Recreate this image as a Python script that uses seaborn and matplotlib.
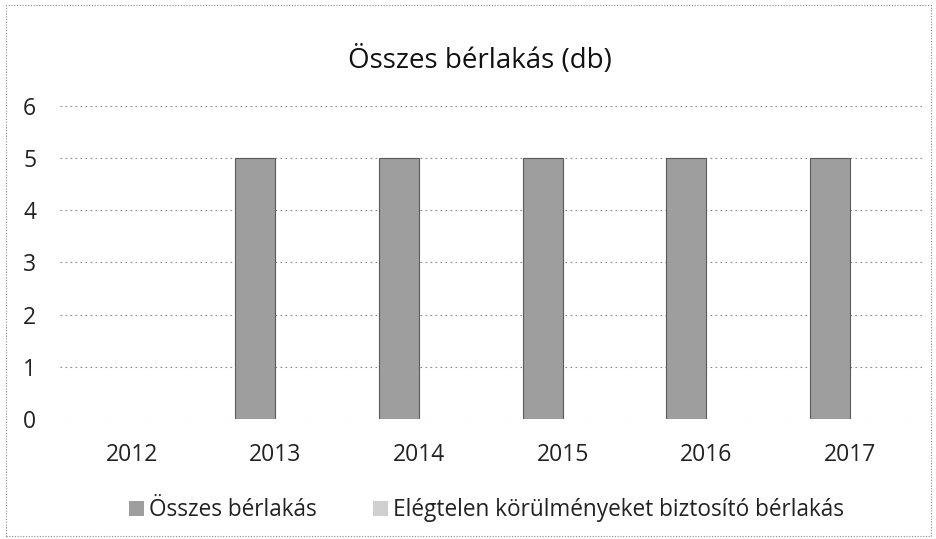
import pandas as pd
import matplotlib.pyplot as plt
import seaborn as sns
from matplotlib.patches import Rectangle

# --- data ---
years = ["2012", "2013", "2014", "2015", "2016", "2017"]
osszes = [0, 5, 5, 5, 5, 5]
elegtelen = [0, 0, 0, 0, 0, 0]
series_names = ["Összes bérlakás", "Elégtelen körülményeket biztosító bérlakás"]

df = pd.DataFrame({
    "ev": years * 2,
    "db": osszes + elegtelen,
    "sorozat": [series_names[0]] * len(years) + [series_names[1]] * len(years),
})

# --- style ---
sns.set_style("white")
plt.rcParams['font.family'] = ['Open Sans', 'DejaVu Sans']

fig = plt.figure(figsize=(9.37, 5.39), dpi=100, facecolor="white")
ax = fig.add_axes([0.064, 0.222, 0.920, 0.582])

sns.barplot(
    data=df, x="ev", y="db", hue="sorozat",
    palette=["#9e9e9e", "#d0d0d0"],
    width=0.56, edgecolor="#5a5a5a", linewidth=0.8,
    ax=ax, legend=True,
)

# zero-height bars leave no outline
for bar in ax.patches:
    if bar.get_height() == 0:
        bar.set_linewidth(0)

ax.set_ylim(0, 6)
ax.set_xlim(-0.5, 5.5)
ax.set_yticks(range(0, 7))
ax.set_xlabel("")
ax.set_ylabel("")
ax.yaxis.grid(True, linestyle=(0, (1.5, 3)), color="#8a8a8a", linewidth=0.8)
ax.set_axisbelow(True)
sns.despine(ax=ax, left=True, bottom=True)
ax.tick_params(axis="both", length=0, labelsize=16.5, colors="#222222")
ax.tick_params(axis="y", pad=17)
ax.tick_params(axis="x", pad=17)

ax.set_title("Összes bérlakás (db)", fontsize=20, color="#111111", pad=27, x=0.487)

# legend below the chart
handles, labels = ax.get_legend_handles_labels()
ax.get_legend().remove()
fig.legend(handles, labels, loc="center", bbox_to_anchor=(0.519, 0.053), ncol=2,
           frameon=False, fontsize=16.3, handlelength=0.66, handleheight=0.66,
           handletextpad=0.22, columnspacing=2.5, labelcolor="#222222")

# dotted chart border
fig.patches.append(Rectangle((0.006, 0.006), 0.988, 0.985, transform=fig.transFigure,
                             fill=False, edgecolor="#8a8a8a", linestyle=(0, (1, 1.5)),
                             linewidth=0.8))

fig.savefig("out.png", dpi=100)
